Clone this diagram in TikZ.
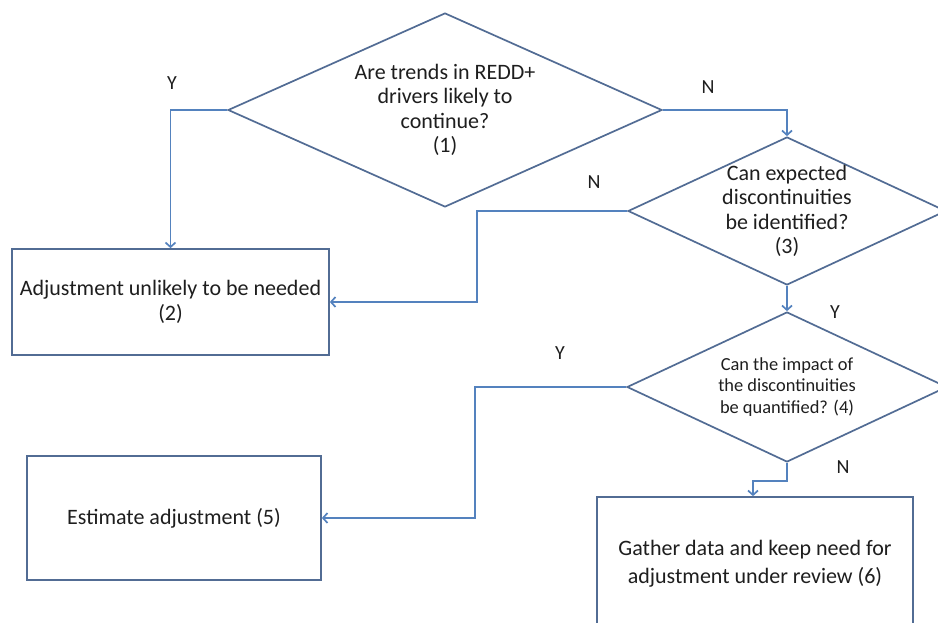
\documentclass[tikz,border=0pt]{standalone}
\usepackage{fontspec}
\setmainfont{Carlito}
\usetikzlibrary{shapes.geometric,arrows.meta}
\definecolor{shapeblue}{RGB}{82,108,148}
\definecolor{arrowblue}{RGB}{84,130,190}
\definecolor{txt}{RGB}{30,30,30}
\tikzset{
  decision/.style={diamond, draw=shapeblue, line width=1.7pt, inner sep=0pt},
  dtext/.style={align=center, text=txt, inner sep=0pt, font=\fontsize{22}{24.5}\selectfont},
  procbox/.style={rectangle, draw=shapeblue, line width=1.7pt, inner sep=0pt, align=center, text=txt,
    font=\fontsize{22}{25}\selectfont},
  conn/.style={draw=arrowblue, line width=1.7pt, -{Straight Barb[length=4.5pt,width=10pt]}},
  yn/.style={text=txt, font=\fontsize{20}{22}\selectfont, inner sep=0pt}
}
\begin{document}
\begin{tikzpicture}[x=1pt,y=-1pt]
\useasboundingbox (0,0) rectangle (938,623);
\clip (0,0) rectangle (938,623);
\fill[white] (0,0) rectangle (938,623);

\node[decision, minimum width=434pt, minimum height=194pt] (d1) at (445,110) {};
\node[dtext] (t1) at (d1.center) {Are trends in REDD+\\drivers likely to\\continue?\\(1)};
\node[procbox, minimum width=317pt, minimum height=106pt] (b2) at (170.5,302)
  {Adjustment unlikely to be needed\\(2)};
\node[decision, minimum width=318pt, minimum height=148pt] (d3) at (787,211) {};
\node[dtext] (t3) at (d3.center) {Can expected\\discontinuities\\be identified?\\(3)};
\node[decision, minimum width=320pt, minimum height=150pt] (d4) at (787,387) {};
\node[dtext, font=\fontsize{18.4}{21.5}\selectfont] (t4) at (d4.center)
  {Can the impact of\\the discontinuities\\be quantified? (4)};
\node[procbox, minimum width=294pt, minimum height=124pt] (b5) at (174,518)
  {Estimate adjustment (5)};
\node[procbox, minimum width=316pt, minimum height=133pt, font=\fontsize{22}{28}\selectfont] (b6) at (755,563.5)
  {Gather data and keep need for\\adjustment under review (6)};

\coordinate (c1) at (477,260);
\coordinate (c2) at (475,450);

\draw[conn] (d1.west) -| (b2.north);
\draw[conn] (d1.east) -| (d3.north);
\draw[conn] (d3.west) -| (c1) |- (b2.east);
\draw[conn] (d3.south) -- (d4.north);
\draw[conn] (d4.west) -| (c2) |- (b5.east);
\draw[conn] (d4.south) -- ++(0,18) -| ([xshift=-2pt]b6.north);

\node[yn] (ly1) at (172,83) {Y};
\node[yn] (ln1) at (708,87) {N};
\node[yn] (ln3) at (594,182) {N};
\node[yn] (ly3) at (835,312) {Y};
\node[yn] (ly4) at (560,353) {Y};
\node[yn] (ln4) at (843,467) {N};
\end{tikzpicture}
\end{document}
